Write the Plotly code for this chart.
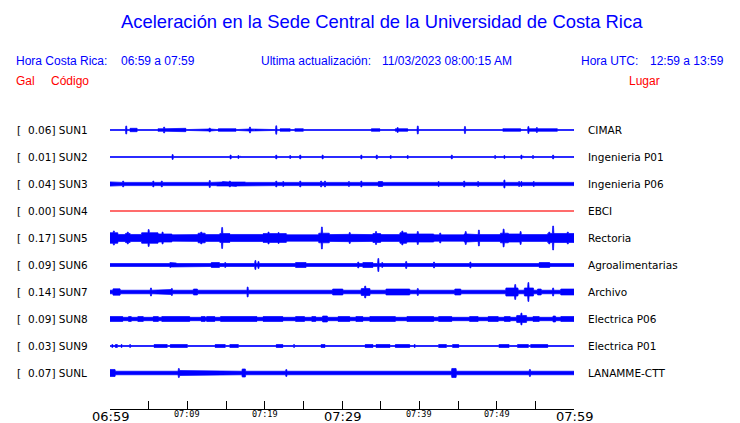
import numpy as np
import plotly.graph_objects as go

# ---------------- data ----------------
stations = ["SUN1", "SUN2", "SUN3", "SUN4", "SUN5", "SUN6", "SUN7", "SUN8", "SUN9", "SUNL"]
peaks = [0.06, 0.01, 0.04, 0.00, 0.17, 0.09, 0.14, 0.09, 0.03, 0.07]
places = ["CIMAR", "Ingenieria P01", "Ingenieria P06", "EBCI", "Rectoria",
          "Agroalimentarias", "Archivo", "Electrica P06", "Electrica P01", "LANAMME-CTT"]
# background noise level (half amplitude, Gal)
base_levels = [0.006, 0.006, 0.023, 0.0, 0.040, 0.021, 0.025, 0.024, 0.007, 0.025]

# bursts: (start min, end min, half amplitude Gal) ; spikes: (min, half amplitude Gal)
sun1_bursts = [(2.6, 3.5, .024), (5.2, 5.8, .014), (6.2, 7.8, .018), (7.8, 9.8, .024), (10.3, 11.5, .014),
               (12.5, 13.2, .014), (14.0, 16.3, .018), (17.5, 19.1, .014), (22.0, 23.3, .018), (23.9, 25.0, .018),
               (25.5, 26.2, .014), (27.4, 28.4, .014), (29.1, 30.0, .014), (30.8, 31.7, .014), (33.8, 34.9, .018),
               (35.6, 36.5, .014), (36.9, 38.5, .018), (40.2, 41.5, .014), (42.6, 44.1, .014), (46.3, 47.8, .014),
               (49.1, 50.4, .014), (50.8, 53.1, .018), (54.1, 57.9, .018), (58.3, 59.2, .014)]
sun1_spikes = [(2.1, .057), (7.0, .042), (12.9, .028), (18.1, .042), (21.5, .060), (37.2, .035), (39.8, .057),
               (45.9, .050), (52.8, .028), (54.1, .050), (55.2, .035)]

sun2_bursts = []
sun2_spikes = [(6.1, .014), (8.1, .035), (9.7, .014), (14.6, .014), (15.3, .014), (15.6, .028), (16.2, .014),
               (16.6, .021), (16.8, .014), (21.5, .028), (22.1, .014), (23.3, .021), (24.6, .028), (27.5, .028),
               (29.0, .014), (32.5, .028), (34.5, .028), (35.2, .014), (36.3, .021), (38.5, .021), (39.8, .014),
               (40.2, .014), (43.7, .014), (44.2, .028), (45.8, .014), (49.8, .021), (50.2, .014), (51.0, .021),
               (53.2, .028), (53.4, .014), (54.7, .021), (57.3, .028)]

sun3_bursts = [(0.0, 0.9, .030), (13.8, 17.5, .028), (34.7, 35.3, .035), (39.4, 40.1, .030)]
sun3_spikes = [(1.7, .042), (2.3, .028), (5.6, .042), (6.7, .042), (12.9, .050), (14.6, .035), (15.5, .042),
               (16.3, .035), (21.5, .042), (22.4, .035), (24.6, .042), (27.3, .042), (27.8, .042), (30.9, .035),
               (32.5, .042), (42.5, .035), (45.8, .042), (47.6, .035), (51.0, .057), (52.9, .035), (53.2, .035),
               (54.8, .035), (57.3, .028), (58.7, .028)]

sun4_bursts = []
sun4_spikes = []

sun5_bursts = [(0.0, 1.0, .075), (1.0, 4.1, .050), (2.0, 2.6, .064), (4.1, 6.2, .075), (6.2, 8.0, .057),
               (8.0, 9.7, .045), (9.7, 11.4, .048), (11.4, 12.3, .068), (12.3, 14.2, .048), (14.2, 15.5, .062),
               (15.5, 19.8, .050), (19.8, 22.8, .062), (22.8, 27.0, .045), (27.0, 28.4, .068), (28.4, 29.7, .048),
               (29.7, 32.7, .052), (32.7, 34.0, .048), (34.0, 35.0, .062), (35.0, 37.5, .048), (37.5, 38.4, .075),
               (38.4, 40.2, .057), (40.2, 41.9, .057), (41.9, 45.8, .045), (45.8, 47.3, .057), (47.3, 50.5, .048),
               (50.5, 51.5, .068), (51.5, 53.0, .057), (53.0, 55.5, .048), (55.5, 56.6, .048), (56.6, 60.0, .064)]
sun5_spikes = [(0.5, .100), (5.0, .120), (14.5, .149), (27.4, .156), (34.4, .092), (37.8, .099), (39.8, .092),
               (46.0, .092), (47.7, .113), (50.9, .127), (53.1, .092), (57.3, .170), (2.3, .085), (6.8, .085),
               (11.8, .085), (20.5, .085), (21.8, .078), (31.0, .078), (42.7, .071), (56.8, .085), (59.2, .085)]

sun6_bursts = [(0.3, 1.6, .028), (2.0, 3.5, .028), (3.9, 5.0, .028), (7.8, 8.6, .028), (9.3, 10.7, .028),
               (13.1, 14.2, .035), (24.0, 25.4, .035), (32.7, 34.0, .035), (55.5, 56.9, .035)]
sun6_spikes = [(7.8, .035), (14.9, .035), (18.8, .064), (19.2, .050), (20.3, .028), (21.5, .028), (28.5, .028),
               (29.9, .028), (32.1, .042), (34.7, .092), (35.2, .035), (38.3, .050), (39.3, .028), (39.8, .028),
               (41.9, .042), (45.0, .028), (46.6, .042), (48.2, .028), (51.0, .028), (59.1, .028)]

sun7_bursts = [(0.4, 1.3, .045), (2.8, 4.5, .035), (6.2, 8.0, .035), (10.8, 11.3, .042), (12.7, 13.9, .035),
               (19.8, 22.8, .035), (24.2, 25.5, .035), (28.8, 30.1, .042), (32.5, 33.6, .050), (35.7, 38.8, .042),
               (40.2, 41.9, .035), (44.6, 45.4, .042), (46.5, 47.4, .035), (48.9, 50.2, .035), (51.2, 52.8, .057),
               (53.6, 54.8, .057), (55.3, 55.8, .042), (58.3, 60.0, .042)]
sun7_spikes = [(5.3, .057), (8.0, .050), (17.8, .071), (33.0, .085), (39.8, .050), (52.4, .106), (54.1, .134),
               (57.3, .057)]

sun8_bursts = [(0.0, 1.7, .035), (2.4, 2.8, .035), (3.6, 4.3, .035), (5.6, 6.3, .035), (6.7, 10.3, .035),
               (11.8, 12.3, .035), (12.5, 13.6, .035), (14.3, 19.0, .035), (19.8, 22.4, .035), (24.0, 25.2, .035),
               (26.1, 26.6, .035), (27.5, 28.1, .042), (29.5, 31.0, .035), (31.8, 32.7, .035), (33.6, 36.9, .035),
               (38.4, 40.2, .035), (40.2, 41.9, .035), (42.5, 44.2, .035), (46.5, 47.6, .035), (48.9, 50.2, .035),
               (51.0, 51.8, .035), (52.6, 53.9, .050), (54.7, 55.5, .035), (57.3, 57.6, .042), (58.3, 60.0, .035)]
sun8_spikes = [(0.8, .042), (35.8, .042), (53.2, .085)]

sun9_bursts = [(0.7, 0.9, .021), (5.7, 7.4, .021), (7.8, 10.0, .021), (13.6, 14.9, .021), (15.5, 16.6, .021),
               (21.5, 22.4, .021), (27.3, 27.8, .021), (33.0, 34.0, .021), (34.4, 36.2, .021), (36.9, 38.8, .021),
               (42.5, 43.5, .021), (44.3, 45.1, .021), (46.0, 47.3, .014), (50.3, 51.6, .021), (52.7, 54.1, .021),
               (54.4, 56.6, .021)]
sun9_spikes = [(0.3, .021), (0.9, .021), (1.5, .021), (2.6, .021), (4.5, .014), (14.0, .014), (18.9, .014),
               (23.8, .021), (24.8, .014), (29.0, .014), (31.1, .014), (31.8, .014), (39.4, .021), (41.3, .014),
               (53.1, .028), (57.8, .014), (59.2, .014)]

sunl_bursts = [(0.0, 0.7, .050), (7.8, 8.7, .035), (9.0, 10.3, .035), (17.1, 17.5, .057), (21.5, 22.0, .030),
               (24.6, 24.9, .035), (32.4, 33.6, .035), (35.6, 36.3, .035), (37.9, 39.2, .035), (41.8, 43.5, .028),
               (44.2, 44.8, .064)]
sunl_spikes = [(3.2, .028), (6.1, .035), (8.9, .064), (11.3, .028), (13.6, .028), (16.1, .028), (18.5, .035),
               (22.8, .050), (28.1, .028), (29.7, .028), (44.4, .071), (46.6, .035), (48.6, .028), (50.8, .028),
               (54.3, .050), (56.6, .035)]

all_bursts = [sun1_bursts, sun2_bursts, sun3_bursts, sun4_bursts, sun5_bursts,
              sun6_bursts, sun7_bursts, sun8_bursts, sun9_bursts, sunl_bursts]
all_spikes = [sun1_spikes, sun2_spikes, sun3_spikes, sun4_spikes, sun5_spikes,
              sun6_spikes, sun7_spikes, sun8_spikes, sun9_spikes, sunl_spikes]

tick_minutes = [0, 5, 10, 15, 20, 25, 30, 35, 40, 45, 50, 55, 60]
tick_labels = ["06:59", "", "07:09", "", "07:19", "", "07:29", "", "07:39", "", "07:49", "", "07:59"]
major_ticks = ["06:59", "07:29", "07:59"]

title_text = "Aceleración en la Sede Central de la Universidad de Costa Rica"

# ---------------- geometry (pixels) ----------------
W, H = 740, 423
L, R, T, B = 110, 574, 116, 409
PW, PH = R - L, B - T
ROW = 27
ROW_HALF_GAL = 0.1912

def px(xp):
    return (xp - L) / PW

def py(yp):
    return (B - yp) / PH

fig = go.Figure()

t = np.arange(0, 60.0001, 0.05)
for i, name in enumerate(stations):
    env = np.full_like(t, base_levels[i])
    for (a, b, amp) in all_bursts[i]:
        m = (t >= a) & (t <= b)
        env[m] = np.maximum(env[m], amp)
    for (ts, amp) in all_spikes[i]:
        m = np.abs(t - ts) <= 0.07
        env[m] = np.maximum(env[m], amp)
    color = "#ff0000" if name == "SUN4" else "#0000ff"
    xs = np.concatenate([t, t[::-1]])
    ys = np.concatenate([env, -env[::-1]])
    yname = "y" if i == 0 else f"y{i+1}"
    fig.add_trace(go.Scatter(x=xs, y=ys, mode="lines", fill="toself",
                             fillcolor=color, line=dict(color=color, width=0.7),
                             hoverinfo="skip", showlegend=False, xaxis="x", yaxis=yname))

layout = dict(
    width=W, height=H, margin=dict(l=L, r=W - R, t=T, b=H - B, pad=0),
    paper_bgcolor="white", plot_bgcolor="white", showlegend=False,
    xaxis=dict(range=[0, 60], domain=[0, 1], anchor="free", position=0,
               showline=True, linecolor="black", linewidth=1, mirror=False,
               ticks="inside", ticklen=8, tickcolor="black", tickwidth=1,
               tickvals=tick_minutes, showticklabels=False, showgrid=False, zeroline=False,
               fixedrange=True),
)
for i in range(len(stations)):
    top = T + 0.5 + ROW * i
    key = "yaxis" if i == 0 else f"yaxis{i+1}"
    layout[key] = dict(domain=[py(top + ROW), py(top)], range=[-ROW_HALF_GAL, ROW_HALF_GAL],
                       visible=False, anchor="x", fixedrange=True)
fig.update_layout(**layout)

ann = []
def add(text, xp, yp, size, color, family, anchor="left"):
    ann.append(dict(text=text, x=px(xp), y=py(yp), xref="paper", yref="paper",
                    xanchor=anchor, yanchor="middle", showarrow=False,
                    font=dict(size=size, color=color, family=family)))

HF = "Liberation Sans, Arial, sans-serif"
LF = "DejaVu Sans, sans-serif"
blue = "#0000ff"
red = "#ff0000"
add(title_text, 382, 22, 18.4, blue, HF, "center")
add("Hora Costa Rica:", 14, 61, 12, blue, HF)
add("06:59 a 07:59", 119, 61, 12, blue, HF)
add("Ultima actualización:", 259, 61, 12, blue, HF)
add("11/03/2023 08:00:15 AM", 380, 61, 12, blue, HF)
add("Hora UTC:", 579, 61, 12, blue, HF)
add("12:59 a 13:59", 726, 61, 12, blue, HF, "right")
add("Gal", 14, 81, 12, red, HF)
add("Código", 49, 81, 12, red, HF)
add("Lugar", 627, 81, 12, red, HF)

for i, name in enumerate(stations):
    yc = 130 + ROW * i
    add("[", 15, yc, 10.5, "black", LF)
    add(f"{peaks[i]:.2f}] {name}", 26, yc, 10.5, "black", LF)
    add(places[i], 586, yc, 10.5, "black", LF)

for tm, lab in zip(tick_minutes, tick_labels):
    if not lab:
        continue
    if lab in major_ticks:
        ann.append(dict(text=lab, x=tm, y=py(416.5), xref="x", yref="paper", xanchor="center",
                        yanchor="middle", showarrow=False,
                        font=dict(size=13, color="black", family=LF)))
    else:
        ann.append(dict(text=lab, x=tm, y=py(414), xref="x", yref="paper", xanchor="center",
                        yanchor="middle", showarrow=False,
                        font=dict(size=8.5, color="black", family="DejaVu Sans Mono, monospace")))

fig.update_layout(annotations=ann)
fig.write_html("out.html", config={"displayModeBar": False},
               post_script="document.body.style.margin='0px';")
